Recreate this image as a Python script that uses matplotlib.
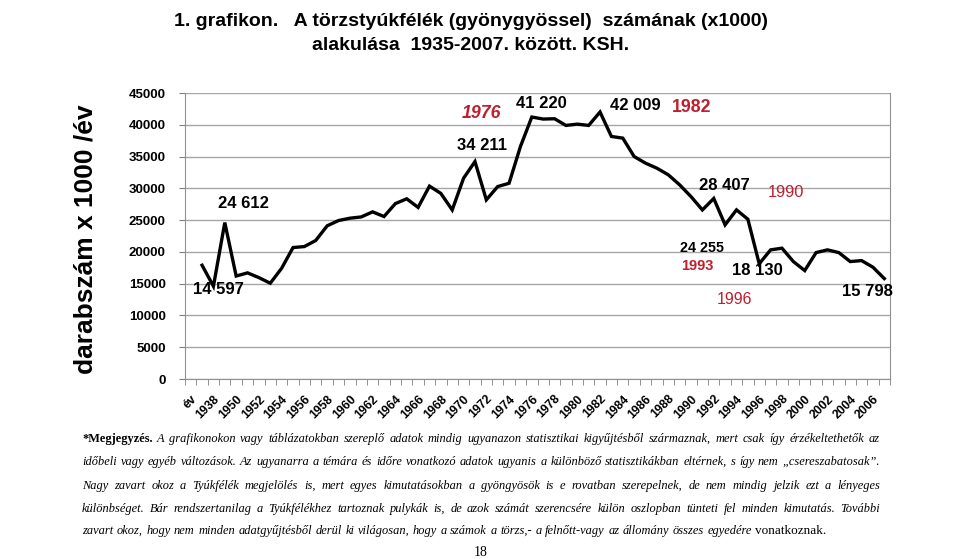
import matplotlib.pyplot as plt
import numpy as np

# categories (first cell is the header "év", no value)
cats = ["év", "1935", "1938", "1949"] + [str(y) for y in range(1950, 2008)]
vals = [np.nan, 17900, 14597, 24612, 16200, 16700, 15950, 15070, 17430, 20680,
        20840, 21800, 24100, 24930, 25300, 25500, 26300, 25560, 27600, 28350,
        27000, 30350, 29200, 26600, 31600, 34211, 28190, 30280, 30800, 36580,
        41220, 40900, 40950, 39900, 40100, 39900, 42009, 38160, 37900, 35000,
        33960, 33170, 32130, 30550, 28700, 26600, 28407, 24255, 26610, 25140,
        18130, 20320, 20580, 18480, 17060, 19890, 20320, 19890, 18480, 18630,
        17590, 15798]
yticks = list(range(0, 45001, 5000))

W, H = 959, 559
RED = '#be1e2d'
SANS = 'Liberation Sans'

fig = plt.figure(figsize=(W/100, H/100), dpi=100)

def px(x, y):
    return x/W, 1 - y/H

ax = fig.add_axes([185/W, 1-379/H, 705/W, 286/H])
x = np.arange(len(cats))
ax.plot(x, vals, color='black', lw=2.4, solid_joinstyle='miter')
ax.set_xlim(-0.5, len(cats)-0.5)
ax.set_ylim(0, 45000)
ax.set_yticks(yticks)
ax.set_yticklabels([str(v) for v in yticks], fontfamily=SANS, fontweight='bold', fontsize=9.5)
ax.set_xticks(x[::2])
ax.set_xticklabels(cats[::2], rotation=45, ha='right', rotation_mode='anchor',
                   fontfamily=SANS, fontweight='bold', fontsize=8.8)
ax.set_xticks(np.arange(-0.5, len(cats), 1), minor=True)
ax.tick_params(axis='x', which='major', length=0, pad=10)
ax.tick_params(axis='x', which='minor', length=4, color='#808080')
ax.tick_params(axis='y', length=4, color='#808080', pad=10)
ax.grid(axis='y', color='#a6a6a6', lw=1)
ax.set_axisbelow(True)
for s in ax.spines.values():
    s.set_color('#909090')
ax.spines['top'].set_visible(False)

# title
fig.text(*px(471, 21), "1. grafikon.   A törzstyúkfélék (gyönygyössel)  számának (x1000)",
         ha='center', va='center', fontsize=14, fontweight='bold', family=SANS)
fig.text(*px(471, 45), "alakulása  1935-2007. között. KSH.",
         ha='center', va='center', fontsize=14, fontweight='bold', family=SANS)

fig.text(*px(86, 239), "darabszám x 1000 /év", rotation=90, ha='center', va='center',
         fontsize=19, fontweight='bold', family=SANS)

# annotations
notes = [
    (243, 204, "24 612", 'black', 12, 'bold', 'normal'),
    (218, 290, "14 597", 'black', 12, 'bold', 'normal'),
    (482, 145, "34 211", 'black', 12, 'bold', 'normal'),
    (541, 103, "41 220", 'black', 12, 'bold', 'normal'),
    (635, 106, "42 009", 'black', 12, 'bold', 'normal'),
    (724, 185, "28 407", 'black', 12, 'bold', 'normal'),
    (702, 248, "24 255", 'black', 10.3, 'bold', 'normal'),
    (757, 270, "18 130", 'black', 12, 'bold', 'normal'),
    (867, 292, "15 798", 'black', 12, 'bold', 'normal'),
    (481, 114, "1976", RED, 12.8, 'bold', 'italic'),
    (692, 108, "1982", RED, 12.8, 'bold', 'normal'),
    (786, 193, "1990", RED, 11.8, 'normal', 'normal'),
    (697, 266, "1993", RED, 10.5, 'bold', 'normal'),
    (735, 300, "1996", RED, 11.5, 'normal', 'normal'),
]
for nx, ny, s, c, fs, fw, st in notes:
    fig.text(*px(nx, ny), s, ha='center', va='center', color=c, fontsize=fs,
             fontweight=fw, fontstyle=st, family=SANS)

# footnote (justified lines)
SERIF = 'Liberation Serif'
lines = [
    ("A grafikonokon vagy táblázatokban szereplő adatok mindig ugyanazon statisztikai kigyűjtésből származnak, mert csak így érzékeltethetők az", True),
    ("időbeli vagy egyéb változások. Az ugyanarra a témára és időre vonatkozó adatok ugyanis a különböző statisztikákban eltérnek, s így nem „csereszabatosak”.", True),
    ("Nagy zavart okoz a Tyúkfélék megjelölés is, mert egyes kimutatásokban a gyöngyösök is e rovatban szerepelnek, de nem mindig jelzik ezt a lényeges", True),
    ("különbséget. Bár rendszertanilag a Tyúkfélékhez tartoznak pulykák is, de azok számát szerencsére külön oszlopban tünteti fel minden kimutatás. További", True),
    ("zavart okoz, hogy nem minden adatgyűjtésből derül ki világosan, hogy a számok a törzs,- a felnőtt-vagy az állomány összes egyedére", False),
]
ys = [439, 462, 486, 509, 531]
x0, x1 = 82, 880
renderer = fig.canvas.get_renderer()
FS = 8.9
for i, ((txt, just), ly) in enumerate(zip(lines, ys)):
    items = []
    if i == 0:
        items.append(fig.text(0, 0, "*Megjegyzés.", fontsize=FS, fontweight='bold',
                              family=SERIF, va='center'))
    for w in txt.split(' '):
        items.append(fig.text(0, 0, w, fontsize=FS, fontstyle='italic',
                              family=SERIF, va='center'))
    if i == 4:
        items.append(fig.text(0, 0, "vonatkoznak.", fontsize=FS+0.6,
                              family=SERIF, va='center'))
    widths = [t.get_window_extent(renderer).width for t in items]
    if just:
        gap = (x1 - x0 - sum(widths)) / (len(items) - 1)
    else:
        gap = FS * 0.28 * 100 / 72
    cx = x0
    for t, w in zip(items, widths):
        t.set_position(px(cx, ly))
        cx += w + gap

fig.text(*px(481, 553), "18", ha='center', va='center', fontsize=10, family=SERIF)

fig.savefig('out.png', dpi=100)
